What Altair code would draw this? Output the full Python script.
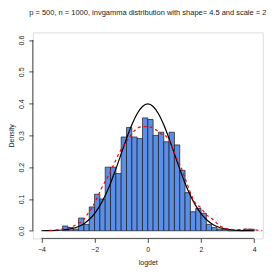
import altair as alt
import pandas as pd

title_text = "p = 500, n = 1000, invgamma distribution with shape= 4.5 and scale = 2"
x_ticks = [-4, -2, 0, 2, 4]
y_ticks = [0.0, 0.1, 0.2, 0.3, 0.4, 0.5, 0.6]

bin_width = 0.2
bin_starts = [-3.2, -3.0, -2.8, -2.6, -2.4, -2.2, -2.0, -1.8, -1.6, -1.4, -1.2,
              -1.0, -0.8, -0.6, -0.4, -0.2, 0.0, 0.2, 0.4, 0.6, 0.8, 1.0,
              1.2, 1.4, 1.6, 1.8, 2.0, 2.2, 2.4, 2.6, 2.8, 3.0, 3.2, 3.4, 3.6, 3.8]
densities = [0.015, 0.010, 0.005, 0.040, 0.020, 0.075, 0.115, 0.100, 0.200, 0.200, 0.180,
             0.295, 0.325, 0.295, 0.290, 0.355, 0.350, 0.300, 0.310, 0.280, 0.310, 0.270,
             0.190, 0.120, 0.060, 0.070, 0.055, 0.020, 0.010, 0.005, 0.005, 0.0, 0.0, 0.0, 0.005, 0.005]

# theoretical (black) curve values
norm_x = [-4.0, -3.8, -3.6, -3.4, -3.2, -3.0, -2.8, -2.6, -2.4, -2.2, -2.0, -1.8, -1.6, -1.4,
          -1.2, -1.0, -0.8, -0.6, -0.4, -0.2, 0.0, 0.2, 0.4, 0.6, 0.8, 1.0, 1.2, 1.4, 1.6,
          1.8, 2.0, 2.2, 2.4, 2.6, 2.8, 3.0, 3.2, 3.4, 3.6, 3.8, 4.0]
norm_y = [0.0001, 0.0003, 0.0006, 0.0012, 0.0024, 0.0044, 0.0079, 0.0136, 0.0224, 0.0355,
          0.0540, 0.0790, 0.1109, 0.1497, 0.1942, 0.2420, 0.2897, 0.3332, 0.3683, 0.3910,
          0.3989, 0.3910, 0.3683, 0.3332, 0.2897, 0.2420, 0.1942, 0.1497, 0.1109, 0.0790,
          0.0540, 0.0355, 0.0224, 0.0136, 0.0079, 0.0044, 0.0024, 0.0012, 0.0006, 0.0003, 0.0001]

# estimated (red dashed) curve
kde_x = [-3.7, -3.4, -3.0, -2.8, -2.6, -2.45, -2.3, -2.1, -1.92, -1.72, -1.48, -1.27, -1.06,
         -0.9, -0.75, -0.5, -0.3, -0.1, 0.1, 0.3, 0.5, 0.7, 0.9, 1.1, 1.25, 1.45, 1.6,
         1.75, 2.0, 2.2, 2.35, 2.5, 2.7, 2.9, 3.2, 3.5, 3.7, 3.9, 4.1, 4.3]
kde_y = [0.001, 0.003, 0.009, 0.014, 0.024, 0.031, 0.048, 0.072, 0.100, 0.137, 0.173, 0.210, 0.247,
         0.270, 0.286, 0.315, 0.326, 0.328, 0.326, 0.318, 0.305, 0.296, 0.265, 0.226, 0.199, 0.154, 0.120,
         0.092, 0.072, 0.050, 0.042, 0.031, 0.016, 0.008, 0.004, 0.004, 0.005, 0.004, 0.002, 0.0005]

hist = pd.DataFrame({
    "start": bin_starts,
    "end": [round(s + bin_width, 2) for s in bin_starts],
    "density": densities,
})
norm_df = pd.DataFrame({"x": norm_x, "y": norm_y})
kde_df = pd.DataFrame({"x": kde_x, "y": kde_y})
xaxis_df = pd.DataFrame({"a": [x_ticks[0]], "b": [x_ticks[-1]]})
yaxis_df = pd.DataFrame({"a": [y_ticks[0]], "b": [y_ticks[-1]]})

W, H = 230, 206
FONT = "Liberation Sans"
xs = alt.Scale(domain=[-4.32, 4.32], nice=False, zero=False)
ys = alt.Scale(domain=[-0.024, 0.624], nice=False, zero=False)

x_axis = alt.Axis(values=x_ticks, title="logdet", domain=False, grid=False,
                  tickSize=4, tickColor="#222", tickWidth=0.8, labelPadding=3,
                  labelFont=FONT, labelFontSize=7, labelColor="#222", format="d",
                  labelOverlap=False,
                  titleFont=FONT, titleFontSize=7, titleFontWeight="normal", titleColor="#222",
                  titlePadding=6)
y_axis = alt.Axis(values=y_ticks, title="Density", domain=False, grid=False,
                  tickSize=4, tickColor="#222", tickWidth=0.8, labelPadding=4,
                  labelAngle=-90, labelAlign="center", labelBaseline="bottom",
                  labelFont=FONT, labelFontSize=7, labelColor="#222", format=".1f",
                  labelOverlap=False,
                  titleFont=FONT, titleFontSize=7, titleFontWeight="normal", titleColor="#222",
                  titleAngle=-90, titleAlign="center", titleBaseline="middle",
                  titleX=-21.5, titleY=H / 2)


def X(field):
    return alt.X(field, scale=xs, axis=x_axis)


def Y(field):
    return alt.Y(field, scale=ys, axis=y_axis)


bars = alt.Chart(hist).mark_rect(fill="#5B8EE6", stroke="#1a1a1a", strokeWidth=0.7).encode(
    x=X("start:Q"),
    x2="end:Q",
    y=Y("density:Q"),
    y2=alt.datum(0),
)

norm_line = alt.Chart(norm_df).mark_line(color="black", strokeWidth=1.2, interpolate="monotone").encode(
    x=X("x:Q"), y=Y("y:Q"))

kde_line = alt.Chart(kde_df).mark_line(color="red", strokeWidth=1.2, strokeDash=[3, 3],
                                       interpolate="monotone").encode(
    x=X("x:Q"), y=Y("y:Q"))

x_dom = alt.Chart(xaxis_df).mark_rule(color="#222", strokeWidth=0.8).encode(
    x=X("a:Q"), x2="b:Q", y=alt.value(H))
y_dom = alt.Chart(yaxis_df).mark_rule(color="#222", strokeWidth=0.8).encode(
    y=Y("a:Q"), y2="b:Q", x=alt.value(0))

chart = alt.layer(bars, norm_line, kde_line, x_dom, y_dom).properties(
    width=W, height=H,
    title=alt.TitleParams(title_text, font=FONT, fontSize=7.5, fontWeight="normal",
                          color="#222", anchor="middle", offset=16),
    autosize=alt.AutoSizeParams(type="none"),
    padding={"left": 24.8, "top": 24.4, "right": 9, "bottom": 33},
).configure_view(stroke=None).configure(background="white")

chart.save("out.html", embed_options={"renderer": "svg", "actions": False})
